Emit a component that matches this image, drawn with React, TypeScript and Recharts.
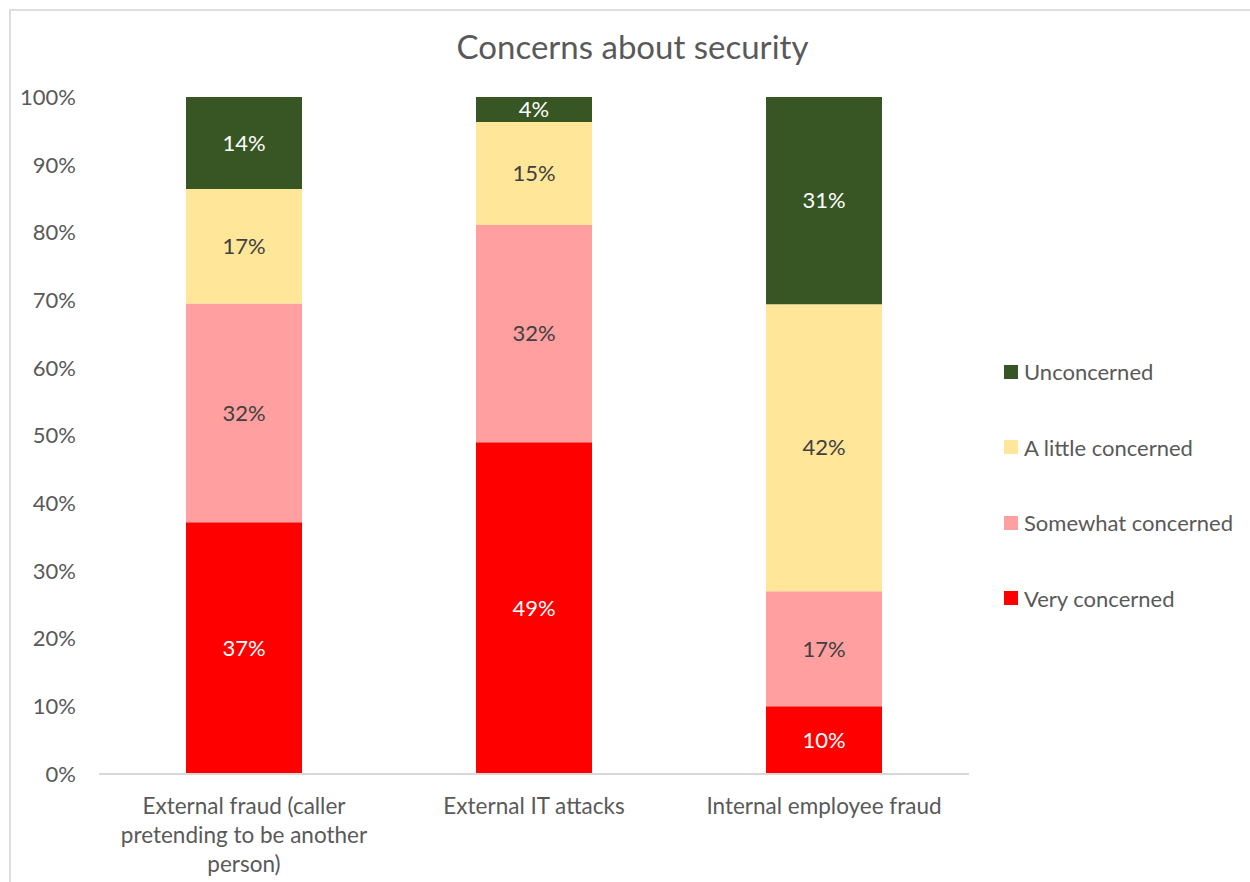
import React from "react";
import { BarChart, Bar, XAxis, YAxis, Legend, LabelList } from "recharts";

const categoryLines = [
  ["External fraud (caller", "pretending to be another", "person)"],
  ["External IT attacks"],
  ["Internal employee fraud"],
];
const categories = categoryLines.map((lines) => lines.join(" "));
const veryConcerned = [37.2, 49.0, 10.0];
const somewhatConcerned = [32.3, 32.1, 17.0];
const littleConcerned = [16.9, 15.2, 42.4];
const unconcerned = [13.6, 3.7, 30.6];
const yTicks = [0, 10, 20, 30, 40, 50, 60, 70, 80, 90, 100];

const FONT = "Lato, 'Open Sans', sans-serif";
const GREY = "#595959";

const series = [
  { key: "very", name: "Very concerned", color: "#FF0000", label: "#FFFFFF" },
  { key: "somewhat", name: "Somewhat concerned", color: "#FF9F9F", label: "#404040" },
  { key: "little", name: "A little concerned", color: "#FFE699", label: "#404040" },
  { key: "unconcerned", name: "Unconcerned", color: "#375623", label: "#FFFFFF" },
];

const data = categories.map((name, i) => ({
  name,
  very: veryConcerned[i],
  somewhat: somewhatConcerned[i],
  little: littleConcerned[i],
  unconcerned: unconcerned[i],
}));

function CategoryTick({ x, y, index }: any) {
  const lines = categoryLines[index] ?? [];
  return (
    <text
      x={x}
      y={y}
      textAnchor="middle"
      fill={GREY}
      style={{ fontFamily: FONT, fontSize: 22.5 }}
    >
      {lines.map((line, i) => (
        <tspan key={i} x={x} y={y + 32 + i * 29}>
          {line}
        </tspan>
      ))}
    </text>
  );
}

function LegendBox() {
  const items = [...series].reverse();
  return (
    <div style={{ fontFamily: FONT, fontSize: 22, color: GREY }}>
      {items.map((s) => (
        <div
          key={s.key}
          style={{ height: 75.5, display: "flex", alignItems: "center" }}
        >
          <span
            style={{
              width: 14,
              height: 14,
              background: s.color,
              marginRight: 6,
              display: "inline-block",
            }}
          />
          <span>{s.name}</span>
        </div>
      ))}
    </div>
  );
}

export default function App() {
  return (
    <div
      style={{
        position: "absolute",
        left: 0,
        top: 0,
        width: 1250,
        height: 882,
        overflow: "hidden",
        background: "#fff",
      }}
    >
      <div
        style={{
          position: "absolute",
          left: 9,
          top: 9,
          width: 1300,
          height: 950,
          border: "2px solid #dedede",
        }}
      />
      <div
        style={{
          position: "absolute",
          left: 0,
          top: 26,
          width: 1265,
          textAlign: "center",
          fontFamily: FONT,
          fontSize: 33,
          color: GREY,
        }}
      >
        Concerns about security
      </div>
      <div style={{ position: "absolute", left: 0, top: 0 }}>
        <BarChart
          width={1250}
          height={882}
          data={data}
          margin={{ top: 97, right: 35, bottom: 0, left: 19 }}
          barCategoryGap="30%"
        >
          <XAxis
            dataKey="name"
            axisLine={{ stroke: "#d9d9d9", strokeWidth: 2 }}
            tickLine={false}
            height={108}
            interval={0}
            tick={<CategoryTick />}
          />
          <YAxis
            width={80}
            domain={[0, 100]}
            ticks={yTicks}
            axisLine={false}
            tickLine={false}
            tickSize={0}
            tickMargin={23}
            tickFormatter={(v: number) => `${v}%`}
            tick={{ fill: GREY, fontSize: 22, fontFamily: FONT }}
          />
          <Legend
            layout="vertical"
            verticalAlign="top"
            align="right"
            content={<LegendBox />}
            wrapperStyle={{ left: 1004, top: 334, width: 246 }}
          />
          {series.map((s) => (
            <Bar
              key={s.key}
              dataKey={s.key}
              name={s.name}
              stackId="a"
              fill={s.color}
              isAnimationActive={false}
            >
              <LabelList
                dataKey={s.key}
                position="center"
                fill={s.label}
                formatter={(v: any) => `${Math.round(Number(v))}%`}
                style={{ fontFamily: FONT, fontSize: 22 }}
              />
            </Bar>
          ))}
        </BarChart>
      </div>
    </div>
  );
}
